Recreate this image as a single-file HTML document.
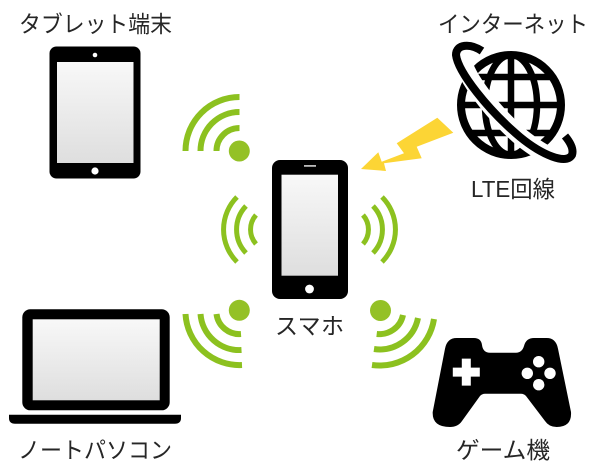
<!DOCTYPE html>
<html><head><meta charset="utf-8"><style>
html,body{margin:0;padding:0;background:#fff}
svg{display:block}
text{font-family:"Liberation Sans","Noto Sans CJK JP",sans-serif;fill:#262626;font-size:23px}
</style></head><body>
<svg width="600" height="465" viewBox="0 0 600 465" xmlns="http://www.w3.org/2000/svg">
<defs><linearGradient id="g" x1="0" y1="0" x2="0" y2="1"><stop offset="0" stop-color="#f8f8f8"/><stop offset="1" stop-color="#dedede"/></linearGradient></defs>
<rect width="600" height="465" fill="#fff"/>
<text x="19" y="32" textLength="153" lengthAdjust="spacingAndGlyphs">タブレット端末</text>
<text x="438" y="32" textLength="150" lengthAdjust="spacingAndGlyphs">インターネット</text>
<text x="471" y="197" textLength="84" lengthAdjust="spacingAndGlyphs">LTE回線</text>
<text x="275" y="334" textLength="69" lengthAdjust="spacing">スマホ</text>
<text x="18" y="458" textLength="154" lengthAdjust="spacingAndGlyphs">ノートパソコン</text>
<text x="456" y="458" textLength="94" lengthAdjust="spacingAndGlyphs">ゲーム機</text>

<!-- tablet -->
<rect x="49.5" y="46.5" width="91" height="132" rx="7" fill="#000"/>
<rect x="57" y="62" width="76.5" height="101" fill="url(#g)"/>
<circle cx="95" cy="55" r="2.3" fill="#fff"/>
<circle cx="95" cy="171" r="3.6" fill="#fff"/>

<!-- phone -->
<rect x="272" y="160" width="76" height="139" rx="8" fill="#000"/>
<rect x="281.5" y="174.7" width="56.5" height="101" fill="url(#g)"/>
<rect x="304" y="165" width="12" height="1.8" fill="#bbb"/>
<circle cx="309.5" cy="289" r="4.4" fill="#fff"/>

<!-- laptop -->
<rect x="22.3" y="309.3" width="147.4" height="101" rx="8" fill="#000"/>
<rect x="32.7" y="319.3" width="127" height="81" fill="url(#g)"/>
<path d="M9 414.7H181V418Q181 423.7 175 423.7H15Q9 423.7 9 418Z" fill="#000"/>

<!-- wifi -->
<g fill="none" stroke="#8cc11f" stroke-width="6">
<path d="M185.500 151A54 54 0 0 1 239.500 97"/>
<path d="M200.500 151A39 39 0 0 1 239.500 112"/>
<path d="M216.500 151A23 23 0 0 1 239.500 128"/>
<path d="M185.500 314A54 54 0 0 0 242 365"/>
<path d="M200.500 314A39 39 0 0 0 241.500 350"/>
<path d="M216.500 314A23 23 0 0 0 241 334"/>
<path d="M434 319A55 55 0 0 1 372 365"/>
<path d="M418 318A39 39 0 0 1 374 349"/>
<path d="M403 315A24 24 0 0 1 376.700 334"/>
</g>
<g fill="none" stroke="#8cc11f" stroke-width="5">
<path d="M237 197A46 46 0 0 0 237 262"/>
<path d="M246 206A34 34 0 0 0 246 253"/>
<path d="M256 215A22 22 0 0 0 256 244"/>
<path d="M382 197A46 46 0 0 1 382 262"/>
<path d="M373 206A34 34 0 0 1 373 253"/>
<path d="M363 215A22 22 0 0 1 363 244"/>
</g>
<g fill="#94c126">
<circle cx="239.300" cy="151" r="10.500"/>
<circle cx="239.300" cy="310.300" r="10.500"/>
<circle cx="380.500" cy="310.500" r="10.500"/>
</g>

<!-- lightning -->
<path d="M437.300 117.700L453.300 132.700L416.700 146.700L421.700 158.300L384 163.300L386 171L361 169L378.300 152.300L381.700 161.700L404 153.300L396.700 143.300Z" fill="#fcd535"/>

<!-- globe -->
<g fill="none" stroke="#000">
<circle cx="511" cy="105" r="50" stroke-width="8"/>
<ellipse cx="511" cy="105" rx="26" ry="50" stroke-width="6.500"/>
<path d="M511 54V156M460 105H562M469 77H553M469 133H553" stroke-width="6.500"/>
</g>
<path d="M462 58C466 78 492 112 522 138C545 156 564 165 570 156" fill="none" stroke="#fff" stroke-width="18"/>
<path d="M482 51C470 43 456 44 456 55C458 72 488 110 520 137C542 155 566 165 572 155C574 149 570 142 565 136" fill="none" stroke="#000" stroke-width="8"/>

<!-- gamepad -->
<path d="M456.700 338H474Q481 338 482 345Q483 352.700 490 352.700H516Q522 352.700 524 346Q526 338 534 338H546.700Q556 338 558 348.700L571 412Q572 427 556.700 427Q549 427 545 421L526 396Q524 393.700 521 393.700H485Q482 393.700 480 396L462 421Q458 427 450 427Q432 427 432.700 412L445 348.700Q447 338 456.700 338Z" fill="#000"/>
<path d="M461.800 358.600H470.800V367.600H479.800V376.600H470.800V385.600H461.800V376.600H452.800V367.600H461.800Z" fill="#fff"/>
<g fill="#fff">
<circle cx="538.700" cy="361.700" r="5.700"/>
<circle cx="527.300" cy="373.300" r="5.700"/>
<circle cx="550" cy="373.300" r="5.700"/>
<circle cx="538.700" cy="384.700" r="5.700"/>
</g>
</svg>
</body></html>
